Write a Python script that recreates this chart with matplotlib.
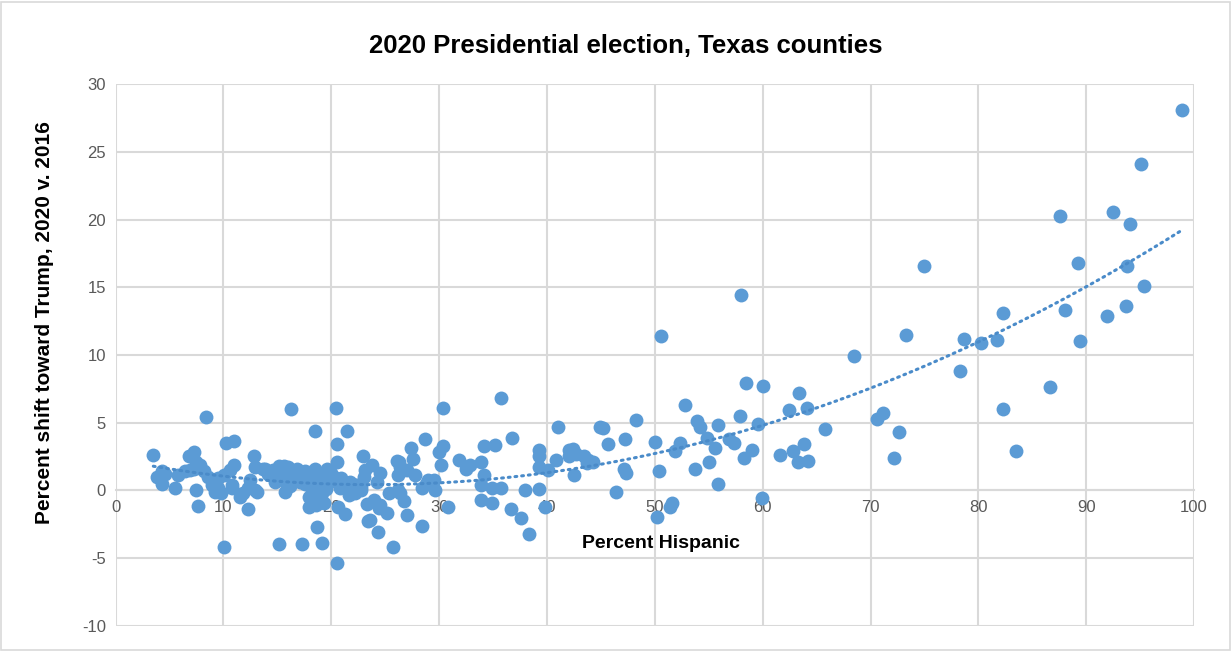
import numpy as np
import matplotlib.pyplot as plt
from matplotlib.patches import Rectangle

plt.rcParams['font.family'] = ['Liberation Sans', 'DejaVu Sans']
plt.rcParams['axes.unicode_minus'] = False

# percent hispanic (x) and percent shift toward Trump (y)
hisp_lo = [3.5, 3.8, 4.3, 4.3, 4.6, 5.5, 5.8, 6.4, 6.8, 6.9, 7.3, 7.3, 7.5, 7.5,
           7.6, 7.8, 8.2, 8.4, 8.6, 8.9, 9.2, 9.2, 9.5, 9.8, 9.5, 10.1, 10.2,
           10.1, 10.6, 10.8, 10.8, 10.95, 10.95, 11.5, 11.8, 12.25, 12.5, 12.25,
           12.8, 12.9, 12.9, 13.1, 13.7]
shift_lo = [2.6, 1.0, 1.4, 0.5, 1.2, 0.2, 1.1, 1.4, 2.5, 1.5, 2.85, 1.6, 2.1, 0.0,
            -1.15, 1.9, 1.4, 5.4, 1.0, 0.4, 0.8, -0.1, 0.9, -0.2, 0.2, 1.1, 3.5,
            -4.15, 1.5, 0.4, 0.15, 3.65, 1.9, -0.5, -0.2, 0.15, 0.8, -1.4,
            2.5, 0.0, 1.7, -0.1, 1.6]

hisp_mid = [13.9, 14.4, 14.8, 15.2, 15.4, 15.6, 15.7, 15.2, 16.0, 16.3, 16.3, 16.6,
            16.8, 16.2, 17.3, 17.3, 17.6, 17.9, 17.9, 18.3, 18.5, 18.5, 18.5, 18.6,
            18.7, 18.9, 19.1, 19.1, 19.4, 19.6, 19.3, 20.0, 19.8, 20.4, 20.5, 20.5,
            20.5, 20.6, 20.7, 20.3, 20.8, 21.3, 21.5, 21.7, 21.8, 21.6, 21.9, 22.2,
            22.4, 22.8, 22.8, 22.2, 22.9, 23.0, 23.1, 23.3, 23.4, 23.6, 23.8, 24.0,
            24.2, 24.3, 24.4, 24.5, 24.5, 25.2, 25.4, 25.7, 26.1, 26.2, 26.2, 26.3,
            26.4, 26.4, 26.5, 26.7, 27.0, 27.0, 27.4, 27.6, 27.8, 28.4, 28.4, 28.7,
            28.8, 29.0, 29.5, 29.6, 30.0, 30.2, 30.4, 30.4, 30.8,
            14.1, 15.0, 16.9, 17.1, 18.1, 19.0, 19.8, 20.2, 17.6, 18.0, 19.5, 16.5,
            15.9, 14.6, 18.8, 20.9, 21.1, 17.9]
shift_mid = [1.55, 1.1, 0.6, 1.8, 1.1, 1.8, -0.1, -4.0, 1.7, 1.0, 6.0, 0.8,
             1.55, 0.3, -4.0, 1.2, 0.5, -0.5, -1.2, -0.7, 1.57, 0.0, 4.4, -1.1,
             -2.7, 0.7, -0.2, -3.87, 0.3, 1.6, -0.9, 1.25, 0.6, 6.1, 3.45, 2.1,
             -5.35, -1.2, 0.44, 1.0, 0.2, -1.75, 4.4, 0.64, 0.15, -0.35, -0.2, 0.4,
             0.4, 0.27, 0.0, -0.2, 2.5, 1.0, 1.5, -1.0, -2.3, -2.2, 1.9, -0.7,
             0.64, -3.06, -1.3, 1.26, -1.1, -1.7, -0.2, -4.2, 2.2, 0.0, 1.13, 2.1,
             1.75, -0.2, 1.4, -0.8, 1.5, -1.8, 3.1, 2.3, 1.1, 0.2, -2.6, 3.8,
             0.5, 0.8, 0.75, 0.0, 2.8, 1.9, 3.25, 6.1, -1.2,
             1.2, 0.9, 1.0, 0.6, 0.9, 1.1, 1.3, 0.8, 1.4, 0.3, 0.1, 1.3,
             0.4, 1.5, -0.4, 0.9, 0.5, 0.8]

hisp_hi = [31.8, 32.5, 32.9, 33.9, 33.9, 33.9, 34.2, 34.2, 34.9, 34.9, 35.2, 35.7,
           35.7, 36.7, 36.8, 37.6, 38.0, 38.3, 39.3, 39.3, 39.3, 39.3, 39.8, 40.1,
           40.8, 41.0, 42.0, 42.4, 42.0, 42.7, 43.4, 43.8, 44.3, 43.7, 42.5, 44.9,
           45.2, 45.7, 46.4, 47.2, 47.1, 47.3, 48.3, 50.0, 50.2, 50.4, 50.6, 51.4,
           51.6, 51.9, 52.3, 52.8, 53.7, 53.9, 54.2, 54.8, 55.0, 55.6, 55.9, 55.9,
           56.9, 57.3, 57.9, 58.0, 58.3, 58.5, 59.0, 59.6, 59.9, 60.0,
           61.6, 62.4, 62.8, 63.3, 63.4, 63.8, 64.1, 64.2, 65.8, 68.5, 70.6, 71.2,
           72.2, 72.6, 73.3, 75.0, 78.3, 78.7, 80.2, 81.7, 82.3, 82.3, 83.5, 86.6,
           87.6, 88.0, 89.2, 89.4, 91.9, 92.5, 93.7, 93.8, 94.1, 95.1, 95.4, 98.9]
shift_hi = [2.25, 1.55, 1.9, 2.1, 0.4, -0.7, 3.3, 1.1, 0.2, -0.95, 3.35, 6.85,
            0.15, -1.4, 3.9, -2.07, 0.0, -3.25, 3.0, 2.5, 1.7, 0.1, -1.26, 1.5,
            2.25, 4.7, 3.0, 3.05, 2.5, 2.7, 2.5, 2.25, 2.1, 2.0, 1.15, 4.65,
            4.6, 3.4, -0.1, 3.8, 1.55, 1.25, 5.2, 3.6, -1.95, 1.45, 11.4, -1.25,
            -0.9, 2.9, 3.5, 6.3, 1.6, 5.1, 4.65, 3.9, 2.1, 3.1, 4.85, 0.5,
            3.8, 3.5, 5.5, 14.4, 2.4, 7.9, 3.0, 4.9, -0.6, 7.7,
            2.6, 5.9, 2.9, 2.1, 7.2, 3.4, 6.1, 2.2, 4.5, 9.9, 5.3, 5.7,
            2.4, 4.3, 11.5, 16.6, 8.8, 11.2, 10.9, 11.1, 13.1, 6.0, 2.9, 7.6,
            20.3, 13.3, 16.8, 11.0, 12.9, 20.6, 13.6, 16.6, 19.7, 24.1, 15.1, 28.1]

x = np.array(hisp_lo + hisp_mid + hisp_hi)
y = np.array(shift_lo + shift_mid + shift_hi)

blue = '#5b9bd5'
grid = '#d9d9d9'
txt = '#595959'

fig = plt.figure(figsize=(12.32, 6.51), dpi=100)
fig.patches.append(Rectangle((0.001, 0.002), 0.997, 0.995, transform=fig.transFigure,
                             fill=False, edgecolor=grid, lw=1.2))
ax = fig.add_axes([0.0938, 0.0389, 0.8754, 0.8316])

ax.scatter(x, y, s=100, color=blue, zorder=3, linewidths=0)

# polynomial (order 2) trend line, as in the spreadsheet
coef = np.polyfit(x, y, 2)
xt = np.linspace(x.min(), x.max(), 200)
ax.plot(xt, np.polyval(coef, xt), color='#4a8bc9', lw=2.2, linestyle=(0, (0.6, 1.6)),
        dash_capstyle='round', zorder=4)

ax.set_xlim(0, 100)
ax.set_ylim(-10, 30)
ax.set_xticks(np.arange(0, 101, 10))
ax.set_yticks(np.arange(-10, 31, 5))
ax.grid(True, color=grid, lw=1.5, zorder=0)
ax.set_axisbelow(True)
for s in ['top', 'right', 'left']:
    ax.spines[s].set_visible(False)
ax.spines['bottom'].set_position(('data', 0))
ax.spines['bottom'].set_color(grid)
ax.spines['bottom'].set_linewidth(1.5)
ax.tick_params(length=0, labelsize=12, labelcolor=txt, pad=7)

fig.text(0.508, 0.930, '2020 Presidential election, Texas counties', fontsize=18.5,
         fontweight='bold', ha='center', va='center')
ax.set_xlabel('Percent Hispanic', fontsize=14, fontweight='bold')
ax.xaxis.set_label_coords(0.506, 0.168)
ax.set_ylabel('Percent shift toward Trump, 2020 v. 2016', fontsize=15,
              fontweight='bold')
ax.yaxis.set_label_coords(-0.057, 0.559)

fig.savefig('out.png', dpi=100)
